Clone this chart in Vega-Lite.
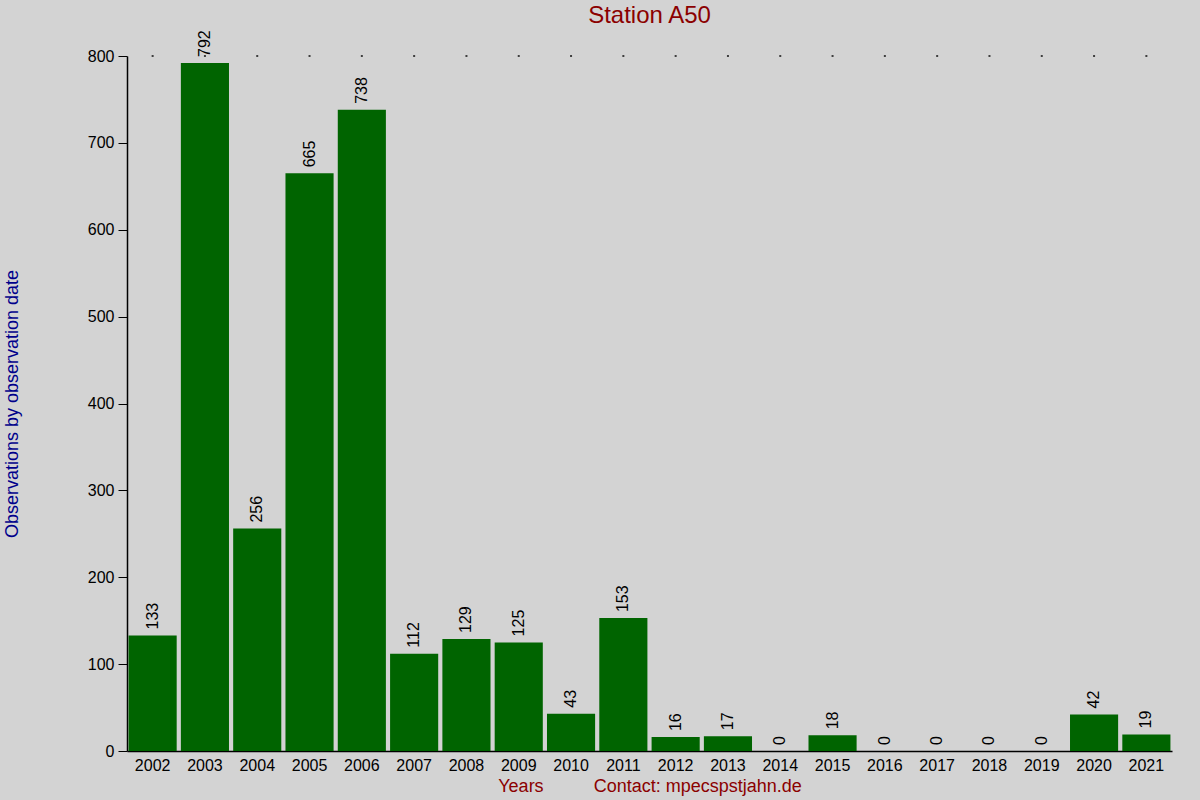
{
  "$schema": "https://vega.github.io/schema/vega-lite/v6.json",
  "width": 1045,
  "height": 695,
  "autosize": {"type": "none"},
  "padding": {"left": 127, "top": 56, "right": 28, "bottom": 49},
  "background": "#d3d3d3",
  "config": {
    "view": {"stroke": null},
    "font": "Liberation Sans"
  },
  "title": {
    "text": "Station A50",
    "color": "#8b0000",
    "fontSize": 24,
    "fontWeight": "normal",
    "anchor": "middle",
    "offset": 2
  },
  "data": {
    "values": [
      {"year": "2002", "obs": 133},
      {"year": "2003", "obs": 792},
      {"year": "2004", "obs": 256},
      {"year": "2005", "obs": 665},
      {"year": "2006", "obs": 738},
      {"year": "2007", "obs": 112},
      {"year": "2008", "obs": 129},
      {"year": "2009", "obs": 125},
      {"year": "2010", "obs": 43},
      {"year": "2011", "obs": 153},
      {"year": "2012", "obs": 16},
      {"year": "2013", "obs": 17},
      {"year": "2014", "obs": 0},
      {"year": "2015", "obs": 18},
      {"year": "2016", "obs": 0},
      {"year": "2017", "obs": 0},
      {"year": "2018", "obs": 0},
      {"year": "2019", "obs": 0},
      {"year": "2020", "obs": 42},
      {"year": "2021", "obs": 19}
    ]
  },
  "encoding": {
    "x": {
      "field": "year",
      "type": "ordinal",
      "scale": {"paddingInner": 0.08, "paddingOuter": 0.03},
      "axis": {
        "title": "Years\u00a0\u00a0\u00a0\u00a0\u00a0\u00a0\u00a0\u00a0\u00a0\u00a0Contact: mpecspstjahn.de",
        "titleColor": "#8b0000",
        "titleFontSize": 18,
        "titleFontWeight": "normal",
        "titlePadding": 4,
        "labelAngle": 0,
        "labelFontSize": 16,
        "labelColor": "black",
        "labelPadding": 6,
        "ticks": false,
        "domainColor": "black",
        "domainWidth": 1.5
      }
    }
  },
  "layer": [
    {
      "mark": {"type": "bar", "color": "#006400"},
      "encoding": {
        "y": {
          "field": "obs",
          "type": "quantitative",
          "scale": {"domain": [0, 800], "nice": false},
          "axis": {
            "title": "Observations by observation date",
            "titleColor": "#00008b",
            "titleFontSize": 18,
            "titleFontWeight": "normal",
            "titlePadding": 66,
            "values": [0, 100, 200, 300, 400, 500, 600, 700, 800],
            "grid": false,
            "labelFontSize": 16,
            "labelColor": "black",
            "labelPadding": 4,
            "tickSize": 9,
            "tickColor": "black",
            "domainColor": "black",
            "domainWidth": 1.5
          }
        }
      }
    },
    {
      "mark": {
        "type": "text",
        "angle": 270,
        "align": "left",
        "baseline": "middle",
        "dx": 6,
        "fontSize": 16,
        "color": "black"
      },
      "encoding": {
        "y": {"field": "obs", "type": "quantitative"},
        "text": {"field": "obs", "type": "quantitative"}
      }
    },
    {
      "mark": {"type": "tick", "size": 2, "thickness": 2, "color": "black"},
      "encoding": {
        "y": {"datum": 800}
      }
    }
  ]
}
